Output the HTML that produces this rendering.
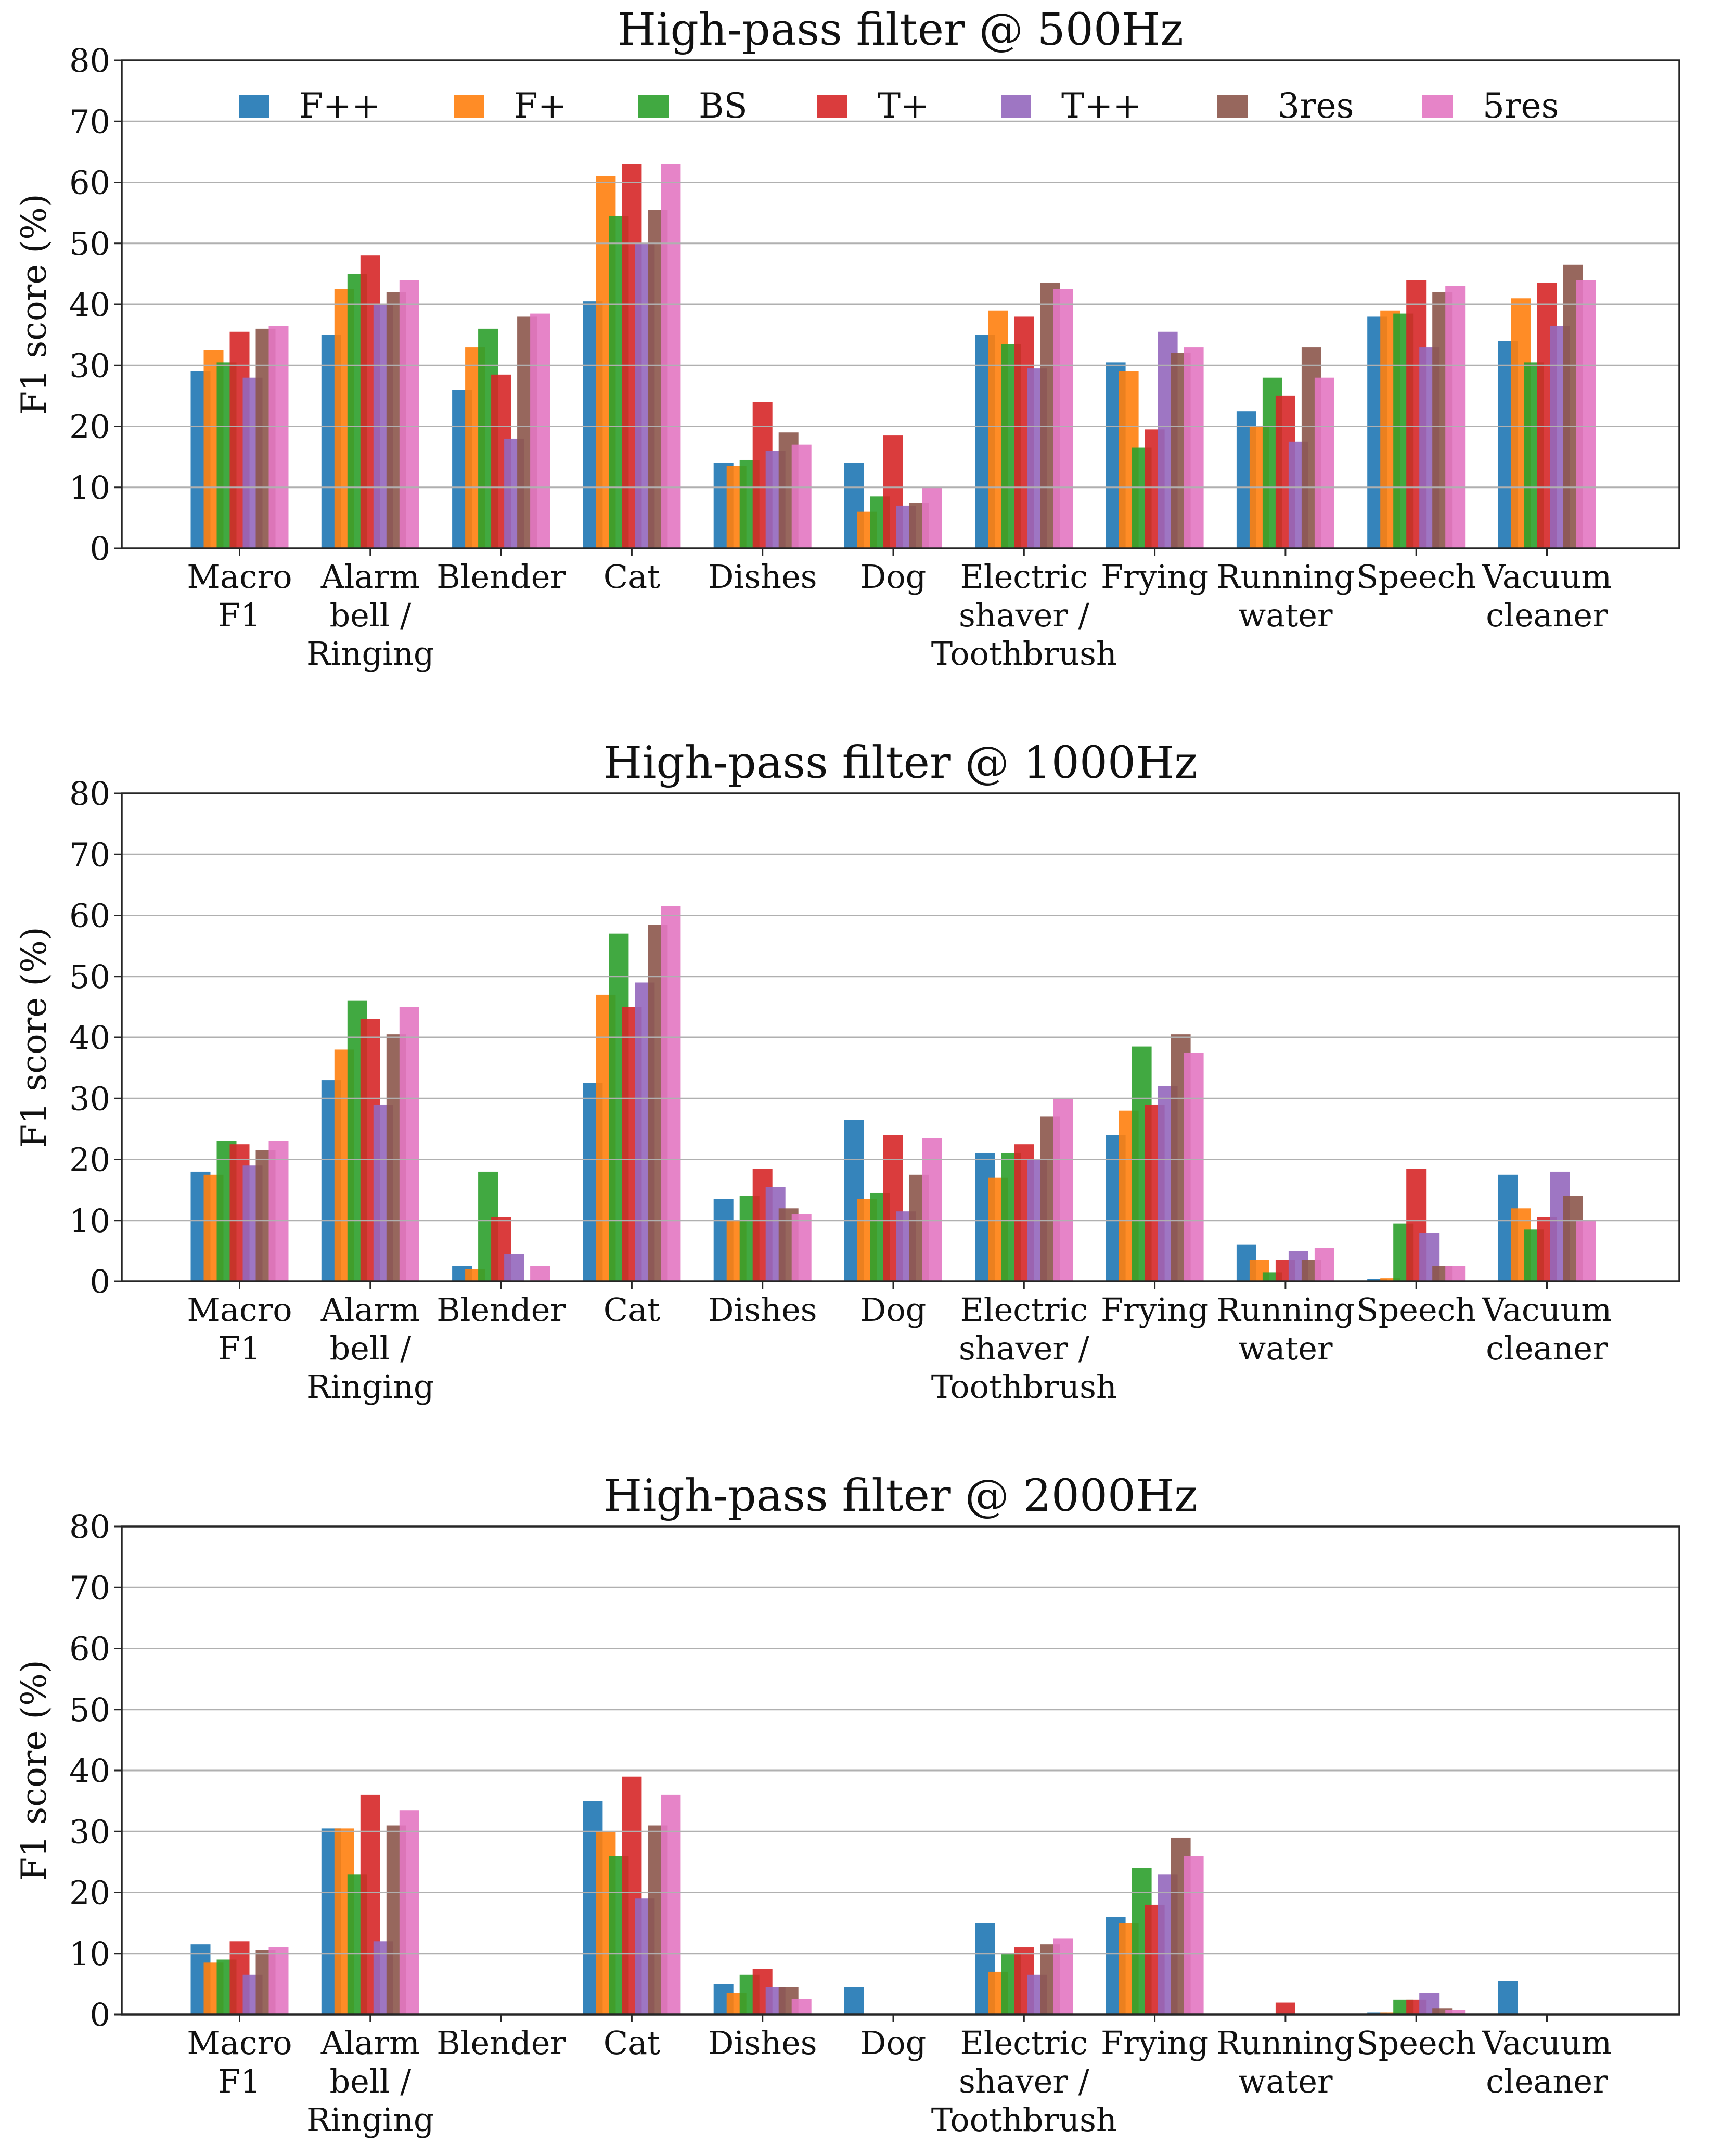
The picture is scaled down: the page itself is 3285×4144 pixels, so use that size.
<!DOCTYPE html>
<html><head><meta charset="utf-8">
<style>
html,body{margin:0;padding:0;background:#fff;}
svg{display:block;font-family:"DejaVu Serif","Liberation Serif",serif;}
</style></head>
<body>
<svg id="fig" width="3285" height="4144" viewBox="0 0 3285 4144" xmlns="http://www.w3.org/2000/svg"></svg>
<script>
const categories = [["Macro","F1"],["Alarm","bell /","Ringing"],["Blender"],["Cat"],["Dishes"],["Dog"],["Electric","shaver /","Toothbrush"],["Frying"],["Running","water"],["Speech"],["Vacuum","cleaner"]];
const seriesNames = ["F++","F+","BS","T+","T++","3res","5res"];
const seriesColors = ["#1f77b4","#ff7f0e","#2ca02c","#d62728","#9467bd","#8c564b","#e377c2"];
const yTicks = [0,10,20,30,40,50,60,70,80];
const titles = ["High-pass filter @ 500Hz","High-pass filter @ 1000Hz","High-pass filter @ 2000Hz"];
// values[category][series]
const values500 = [
 [29,32.5,30.5,35.5,28,36,36.5],
 [35,42.5,45,48,40,42,44],
 [26,33,36,28.5,18,38,38.5],
 [40.5,61,54.5,63,50,55.5,63],
 [14,13.5,14.5,24,16,19,17],
 [14,6,8.5,18.5,7,7.5,10],
 [35,39,33.5,38,29.5,43.5,42.5],
 [30.5,29,16.5,19.5,35.5,32,33],
 [22.5,20,28,25,17.5,33,28],
 [38,39,38.5,44,33,42,43],
 [34,41,30.5,43.5,36.5,46.5,44]
];
const values1000 = [
 [18,17.5,23,22.5,19,21.5,23],
 [33,38,46,43,29,40.5,45],
 [2.5,2,18,10.5,4.5,0,2.5],
 [32.5,47,57,45,49,58.5,61.5],
 [13.5,10,14,18.5,15.5,12,11],
 [26.5,13.5,14.5,24,11.5,17.5,23.5],
 [21,17,21,22.5,20,27,30],
 [24,28,38.5,29,32,40.5,37.5],
 [6,3.5,1.5,3.5,5,3.5,5.5],
 [0.4,0.5,9.5,18.5,8,2.5,2.5],
 [17.5,12,8.5,10.5,18,14,10]
];
const values2000 = [
 [11.5,8.5,9,12,6.5,10.5,11],
 [30.5,30.5,23,36,12,31,33.5],
 [0,0,0,0,0,0,0],
 [35,30,26,39,19,31,36],
 [5,3.5,6.5,7.5,4.5,4.5,2.5],
 [4.5,0,0,0,0,0,0],
 [15,7,10,11,6.5,11.5,12.5],
 [16,15,24,18,23,29,26],
 [0,0,0,2,0,0,0],
 [0.3,0.3,2.4,2.4,3.5,1,0.7],
 [5.5,0,0,0,0,0,0]
];
const allValues = [values500, values1000, values2000];

const NS="http://www.w3.org/2000/svg";
const svg=document.getElementById('fig');
function mk(tag, attrs, parent){const e=document.createElementNS(NS,tag);for(const k in attrs)e.setAttribute(k,attrs[k]);(parent||svg).appendChild(e);return e;}

const X0=234, X1=3228, TICK0=460.5, STEP=251.3, BARSTEP=25, BARW=38;
const PANEL_OFF=1409, TOP0=116, BASE0=1054;
function xScale(i){return TICK0+i*STEP;}

allValues.forEach((vals,p)=>{
  const top=TOP0+p*PANEL_OFF, base=BASE0+p*PANEL_OFF;
  const yScale=v=>base-(v/80)*(base-top);
  const g=mk('g',{});
  
  
  const t=mk('text',{x:(X0+X1)/2,y:top-30,'font-size':85,'text-anchor':'middle',fill:'#111'},g);
  t.textContent=titles[p];
  
  
  vals.forEach((row,ci)=>{
    row.forEach((v,si)=>{
      if(v<=0) return;
      const cx=xScale(ci)+(si-3)*BARSTEP;
      const r=mk('rect',{x:cx-BARW/2,y:yScale(v),width:BARW,height:base-yScale(v),fill:seriesColors[si],'fill-opacity':0.9},g);
      
      
    });
  });
  yTicks.forEach(v=>{
    const y=yScale(v);
    if(v>0 && v<80){
      const gl=mk('line',{x1:X0,x2:X1,y1:y,y2:y,stroke:'#b0b0b0','stroke-width':3},g);
      
      
    }
    mk('line',{x1:X0-14,x2:X0,y1:y,y2:y,stroke:'#262626','stroke-width':3},g);
    const tl=mk('text',{x:X0-22,y:y+22,'font-size':62,'text-anchor':'end',fill:'#111'},g);
    tl.textContent=v;
    
    
  });
  const fr=mk('rect',{x:X0,y:top,width:X1-X0,height:base-top,fill:'none',stroke:'#262626','stroke-width':3.5},g);
  
  
  categories.forEach((lines,ci)=>{
    const x=xScale(ci);
    mk('line',{x1:x,x2:x,y1:base,y2:base+14,stroke:'#262626','stroke-width':3},g);
    lines.forEach((ln,li)=>{
      const tx=mk('text',{x:x,y:base+76+li*74,'font-size':62,'text-anchor':'middle',fill:'#111'},g);
      tx.textContent=ln;
      
      
    });
  });
  const yl=mk('text',{x:0,y:0,'font-size':66,'text-anchor':'middle',fill:'#111',transform:`translate(88,${(top+base)/2}) rotate(-90)`},g);
  yl.textContent='F1 score (%)';
  
  
});

const legendX=[459,872,1227,1571,1924,2340,2734];
const lg=mk('g',{});


seriesNames.forEach((n,si)=>{
  const e=mk('g',{},lg);
  
  
  mk('rect',{x:legendX[si],y:182,width:58,height:45,fill:seriesColors[si],'fill-opacity':0.9},e);
  const t=mk('text',{x:legendX[si]+116,y:226,'font-size':66,fill:'#111'},e);
  t.textContent=n;
});
</script>
</body></html>
